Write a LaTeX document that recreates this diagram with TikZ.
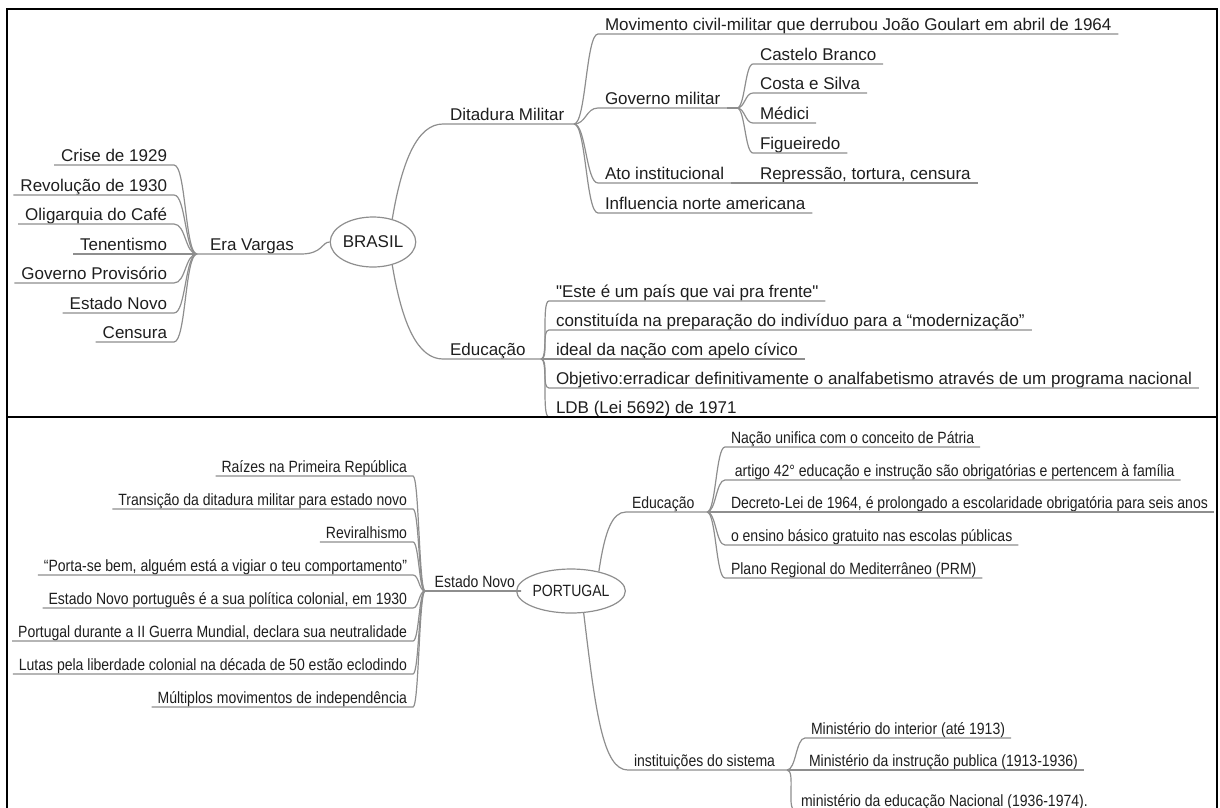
\documentclass[tikz,border=0pt]{standalone}
\usepackage{fontspec}
\setmainfont{Liberation Sans}[Ligatures=TeXOff]
\newfontfamily\narrowfam[FakeStretch=0.86,Ligatures=TeXOff]{Liberation Sans}
\usetikzlibrary{shapes.geometric}
\definecolor{linegray}{HTML}{8E8E8E}
\definecolor{txt}{HTML}{1E1E1E}
\newcommand\mmtop{\fontsize{17}{19}\selectfont}
\newcommand\mmbot{\narrowfam\fontsize{16.3}{19}\selectfont}
\begin{document}
\begin{tikzpicture}[x=1pt,y=-1pt,
  tl/.style={inner xsep=7pt, inner ysep=0pt, outer sep=0pt, text height=12pt, text depth=4pt, font=\mmtop, text=txt},
  bl/.style={tl, inner xsep=6pt, font=\mmbot},
  conn/.style={draw=linegray, line width=1.2pt},
  hub/.style={ellipse, draw=linegray, line width=1.2pt, inner sep=0pt, text=txt},
  frame/.style={draw=black, line width=2pt}]
\useasboundingbox (0,0) rectangle (1220,807);
\clip (0,0) rectangle (1220,807);

% ---------------- TOP PANEL: BRASIL ----------------
\node[hub, minimum width=80pt, minimum height=50pt, font=\mmtop] (brasil) at (373,242) {BRASIL};

% Era Vargas
\coordinate (evj) at (197,254);
\node[tl, anchor=south west] (ev) at (203,254) {Era Vargas};
\node[tl, anchor=south east] (ev1) at (174,165) {Crise de 1929};
\node[tl, anchor=south east] (ev2) at (174,195) {Revolução de 1930};
\node[tl, anchor=south east] (ev3) at (174,224) {Oligarquia do Café};
\node[tl, anchor=south east] (ev4) at (174,254) {Tenentismo};
\node[tl, anchor=south east] (ev5) at (174,283) {Governo Provisório};
\node[tl, anchor=south east] (ev6) at (174,313) {Estado Novo};
\node[tl, anchor=south east] (ev7) at (174,342) {Censura};
\foreach \n in {ev1,ev2,ev3,ev4,ev5,ev6,ev7}
  \draw[conn] (\n.south west) -- (\n.south east) .. controls +(12,0) and +(-12,0) .. (evj);
\draw[conn] (evj) -- (ev.south west) -- (ev.south east) .. controls +(22,0) and +(-8,0) .. (brasil.west);

% Ditadura Militar
\node[tl, anchor=south west] (dm) at (443,124) {Ditadura Militar};
\coordinate (dmj) at (574,124);
\draw[conn] (brasil.50) .. controls +(10,-60) and +(-25,0) .. (dm.south west) -- (dm.south east) -- (dmj);
\node[tl, anchor=south west] (d1) at (598,34) {Movimento civil-militar que derrubou João Goulart em abril de 1964};
\node[tl, anchor=south west] (gm) at (598,108) {Governo militar};
\node[tl, anchor=south west] (ai) at (598,183) {Ato institucional};
\node[tl, anchor=south west] (d4) at (598,213) {Influencia norte americana};
\foreach \n in {d1,gm,ai,d4}
  \draw[conn] (dmj) .. controls +(12,0) and +(-12,0) .. (\n.south west) -- (\n.south east);
\coordinate (gmj) at (737,108);
\draw[conn] (gm.south east) -- (gmj);
\node[tl, anchor=south west] (g1) at (753,64) {Castelo Branco};
\node[tl, anchor=south west] (g2) at (753,93) {Costa e Silva};
\node[tl, anchor=south west] (g3) at (753,123) {Médici};
\node[tl, anchor=south west] (g4) at (753,153) {Figueiredo};
\foreach \n in {g1,g2,g3,g4}
  \draw[conn] (gmj) .. controls +(8,0) and +(-8,0) .. (\n.south west) -- (\n.south east);
\node[tl, anchor=south west] (rep) at (753,183) {Repressão, tortura, censura};
\draw[conn] (ai.south east) -- (rep.south west) -- (rep.south east);

% Educação (Brasil)
\node[tl, anchor=south west] (ed) at (443,359) {Educação};
\coordinate (edj) at (541,359);
\draw[conn] (brasil.-50) .. controls +(10,60) and +(-25,0) .. (ed.south west) -- (ed.south east) -- (edj);
\node[tl, anchor=south west] (e1) at (549,301) {"Este é um país que vai pra frente"};
\node[tl, anchor=south west] (e2) at (549,330) {constituída na preparação do indivíduo para a “modernização”};
\node[tl, anchor=south west] (e3) at (549,359) {ideal da nação com apelo cívico};
\node[tl, anchor=south west] (e4) at (549,388) {Objetivo:erradicar definitivamente o analfabetismo através de um programa nacional};
\node[tl, anchor=south west] (e5) at (549,417) {LDB (Lei 5692) de 1971};
\foreach \n in {e1,e2,e3,e4,e5}
  \draw[conn] (edj) .. controls +(8,0) and +(-8,0) .. (\n.south west) -- (\n.south east);

% ---------------- BOTTOM PANEL: PORTUGAL ----------------
\node[hub, minimum width=84pt, minimum height=44pt, font=\mmbot] (pt) at (571,591) {PORTUGAL};

% Estado Novo
\node[bl, anchor=south east] (en) at (521,591) {Estado Novo};
\coordinate (enj) at (425,591);
\draw[conn] (enj) -- (en.south west) -- (en.south east) -- (pt.west);
\node[bl, anchor=south east] (p1) at (413,476) {Raízes na Primeira República};
\node[bl, anchor=south east] (p2) at (413,509) {Transição da ditadura militar para estado novo};
\node[bl, anchor=south east] (p3) at (413,542) {Reviralhismo};
\node[bl, anchor=south east] (p4) at (413,575) {“Porta-se bem, alguém está a vigiar o teu comportamento”};
\node[bl, anchor=south east] (p5) at (413,608) {Estado Novo português é a sua política colonial, em 1930};
\node[bl, anchor=south east] (p6) at (413,641) {Portugal durante a II Guerra Mundial, declara sua neutralidade};
\node[bl, anchor=south east] (p7) at (413,674) {Lutas pela liberdade colonial na década de 50 estão eclodindo};
\node[bl, anchor=south east] (p8) at (413,707) {Múltiplos movimentos de independência};
\foreach \n in {p1,p2,p3,p4,p5,p6,p7,p8}
  \draw[conn] (\n.south west) -- (\n.south east) .. controls +(6,0) and +(-6,0) .. (enj);

% Educação (Portugal)
\node[bl, anchor=south west] (be) at (626,512) {Educação};
\coordinate (bej) at (707,512);
\draw[conn] (pt.35) .. controls +(6,-40) and +(-14,0) .. (be.south west) -- (be.south east) -- (bej);
\node[bl, anchor=south west] (b1) at (725,447) {Nação unifica com o conceito de Pátria};
\node[bl, anchor=south west] (b2) at (725,480) {\ artigo 42° educação e instrução são obrigatórias e pertencem à família};
\node[bl, anchor=south west] (b3) at (725,512) {Decreto-Lei de 1964, é prolongado a escolaridade obrigatória para seis anos};
\node[bl, anchor=south west] (b4) at (725,545) {o ensino básico gratuito nas escolas públicas};
\node[bl, anchor=south west] (b5) at (725,578) {Plano Regional do Mediterrâneo (PRM)};
\foreach \n in {b1,b2,b3,b4,b5}
  \draw[conn] (bej) .. controls +(9,0) and +(-9,0) .. (\n.south west) -- (\n.south east);

% instituições do sistema
\node[bl, anchor=south west] (is) at (628,770) {instituições do sistema};
\coordinate (isj) at (787,770);
\draw[conn] (pt.-60) .. controls +(12,100) and +(-25,0) .. (is.south west) -- (is.south east) -- (isj);
\node[bl, anchor=south west] (m1) at (805,738) {Ministério do interior (até 1913)};
\node[bl, anchor=south west] (m2) at (803,770) {Ministério da instrução publica (1913-1936)};
\node[bl, anchor=south west] (m3) at (795,810) {ministério da educação Nacional (1936-1974).};
\foreach \n in {m1,m2,m3}
  \draw[conn] (isj) .. controls +(9,0) and +(-9,0) .. (\n.south west) -- (\n.south east);

% ---------------- FRAMES ----------------
\draw[frame] (7,9) rectangle (1217,417);
\draw[frame] (7,417) -- (7,820);
\draw[frame] (1217,417) -- (1217,820);
\end{tikzpicture}
\end{document}
